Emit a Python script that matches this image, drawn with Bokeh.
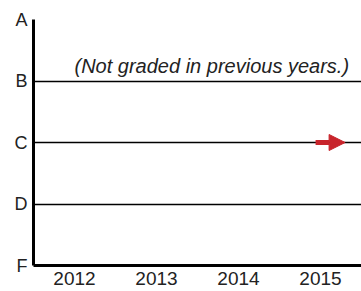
from bokeh.plotting import figure
from bokeh.models import FixedTicker, Arrow, NormalHead, Label, Range1d
from bokeh.embed import file_html
from bokeh.resources import INLINE

years = ["2012", "2013", "2014", "2015"]
grades = ["F", "D", "C", "B", "A"]
arrow_year = "2015"
arrow_grade = "C"
note = "(Not graded in previous years.)"

p = figure(width=361, height=291, output_backend="svg", toolbar_location=None,
           x_range=Range1d(0, len(years)), y_range=Range1d(0, len(grades) - 1),
           min_border_left=33, min_border_right=0, min_border_top=19, min_border_bottom=26)
p.outline_line_color = None
p.background_fill_color = "white"
p.border_fill_color = "white"

xt = [i + 0.5 for i in range(len(years))]
p.xaxis.ticker = FixedTicker(ticks=xt)
p.xaxis.major_label_overrides = {t: y for t, y in zip(xt, years)}
yt = list(range(len(grades)))
p.yaxis.ticker = FixedTicker(ticks=yt)
p.yaxis.major_label_overrides = {t: g for t, g in zip(yt, grades)}

for ax in (p.xaxis, p.yaxis):
    ax.axis_line_width = 3
    ax.axis_line_color = "black"
    ax.major_tick_in = 0
    ax.major_tick_out = 0
    ax.minor_tick_line_color = None
    ax.major_label_text_color = "#222222"

p.xaxis.major_label_text_font = "Liberation Sans"
p.xaxis.major_label_text_font_size = "19px"
p.xaxis.major_label_standoff = 6
p.yaxis.major_label_text_font = "Liberation Sans"
p.yaxis.major_label_text_font_size = "18px"
p.yaxis.major_label_standoff = 6

p.xgrid.grid_line_color = None
p.ygrid.ticker = FixedTicker(ticks=yt[1:])
p.ygrid.grid_line_color = "black"
p.ygrid.grid_line_width = 1.5

xi = years.index(arrow_year)
yi = grades.index(arrow_grade)
p.add_layout(Arrow(x_start=xi + 0.44, y_start=yi, x_end=xi + 0.8, y_end=yi,
                   line_color="#c8242b", line_width=5,
                   end=NormalHead(size=16, fill_color="#c8242b", line_color="#c8242b", line_width=1)))

p.add_layout(Label(x=0.5, y=3.25, text=note, text_font="Liberation Sans",
                   text_font_style="italic", text_font_size="20px", text_color="#222222",
                   text_baseline="middle", text_align="left"))

open("out.html", "w").write(file_html(p, INLINE))
